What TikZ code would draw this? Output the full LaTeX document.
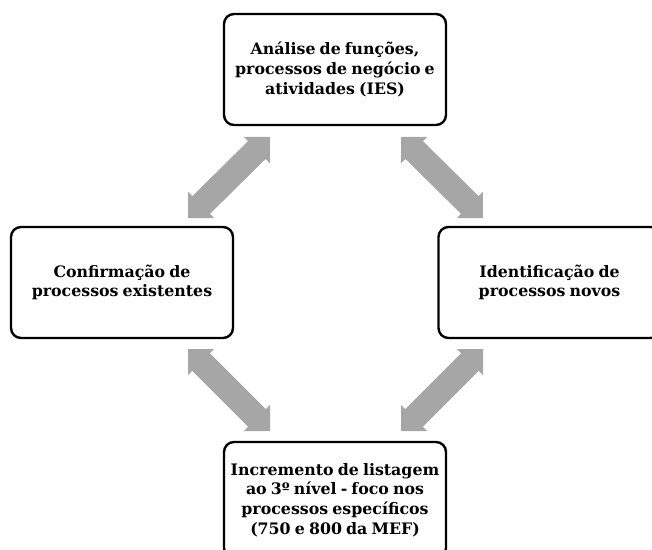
\documentclass[tikz,border=0pt]{standalone}
\usepackage{fontspec}
\setmainfont[WordSpace=0.75]{DejaVu Serif}
\usetikzlibrary{calc}
\definecolor{arrowgray}{HTML}{A6A6A6}
\tikzset{
  box/.style={draw=black, line width=2.4pt, rounded corners=10pt,
    minimum width=222pt, minimum height=111pt, align=center, inner sep=0pt,
    font=\bfseries\fontsize{15.8}{19.7}\selectfont},
  dblarrow/.style={fill=arrowgray},
}
\newcommand{\fatarrow}[2]{%
  \fill[dblarrow] (#1)
   -- ($(#1)!18.5pt!(#2)!18.5pt!90:(#2)$)
   -- ($(#1)!18.5pt!(#2)!12.5pt!90:(#2)$)
   -- ($(#2)!18.5pt!(#1)!12.5pt!-90:(#1)$)
   -- ($(#2)!18.5pt!(#1)!18.5pt!-90:(#1)$)
   -- (#2)
   -- ($(#2)!18.5pt!(#1)!18.5pt!90:(#1)$)
   -- ($(#2)!18.5pt!(#1)!12.5pt!90:(#1)$)
   -- ($(#1)!18.5pt!(#2)!12.5pt!-90:(#2)$)
   -- ($(#1)!18.5pt!(#2)!18.5pt!-90:(#2)$)
   -- cycle;}
\begin{document}
\begin{tikzpicture}[x=1pt,y=-1pt]
  \useasboundingbox (0,0) rectangle (652,549);
  \clip (0,0) rectangle (652,549);
  \node[box] (top) at (335,69.5) {Análise de funções,\\processos de negócio e\\atividades (IES)};
  \node[box] (left) at (122,282.5) {Confirmação de\\processos existentes};
  \node[box] (right) at (549.5,282.5) {Identificação de\\processos novos};
  \node[box, minimum height=116pt] (bottom) at (335,500) {Incremento de listagem\\ao 3º nível - foco nos\\processos específicos\\(750 e 800 da MEF)};
  \coordinate (tl1) at (188,218);
  \coordinate (tl2) at (270,137);
  \coordinate (tr1) at (401,137);
  \coordinate (tr2) at (483,218);
  \coordinate (bl1) at (188,349);
  \coordinate (bl2) at (270,431);
  \coordinate (br1) at (483,349);
  \coordinate (br2) at (401,431);
  \fatarrow{tl1}{tl2}
  \fatarrow{tr1}{tr2}
  \fatarrow{bl1}{bl2}
  \fatarrow{br1}{br2}
\end{tikzpicture}
\end{document}
